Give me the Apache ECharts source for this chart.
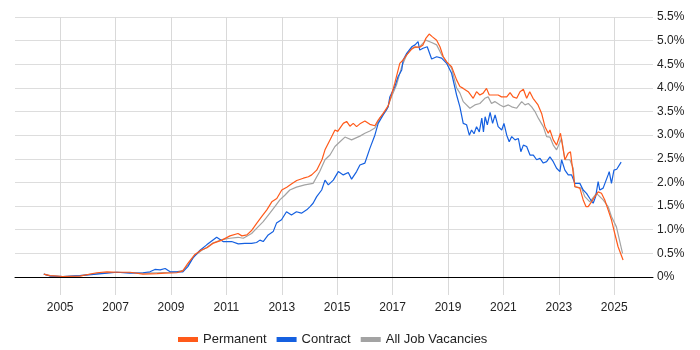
<!DOCTYPE html>
<html><head><meta charset="utf-8">
<script src="https://cdn.jsdelivr.net/npm/echarts@6/dist/echarts.min.js"></script>
<style>html,body{margin:0;padding:0;background:#fff}#c{width:700px;height:350px}</style>
</head><body><div id="c"></div>
<script>
const seriesNames = ['Permanent', 'Contract', 'All Job Vacancies'];
const yearTicks = [2005, 2007, 2009, 2011, 2013, 2015, 2017, 2019, 2021, 2023, 2025];
const pctTicks = [0, 0.5, 1, 1.5, 2, 2.5, 3, 3.5, 4, 4.5, 5, 5.5];

const permanentData = [
[2004.41,0.06],[2004.63,0.03],[2005.10,0.01],[2005.71,0.02],[2006.32,0.09],[2006.69,0.11],[2007.05,0.10],[2007.52,0.10],[2007.99,0.06],[2008.50,0.07],[2008.79,0.08],[2009.21,0.09],[2009.43,0.13],[2009.61,0.29],[2009.85,0.47],[2010.10,0.57],[2010.30,0.62],[2010.51,0.71],[2010.84,0.78],[2011.13,0.87],[2011.42,0.92],[2011.56,0.87],[2011.74,0.89],[2011.92,0.99],[2012.10,1.14],[2012.28,1.28],[2012.46,1.42],[2012.64,1.59],[2012.82,1.66],[2013.00,1.84],[2013.18,1.90],[2013.36,1.97],[2013.54,2.04],[2013.78,2.09],[2013.96,2.12],[2014.08,2.16],[2014.26,2.26],[2014.45,2.48],[2014.56,2.69],[2014.74,2.90],[2014.92,3.11],[2015.02,3.08],[2015.10,3.15],[2015.22,3.25],[2015.34,3.29],[2015.46,3.19],[2015.58,3.25],[2015.70,3.18],[2015.82,3.24],[2016.00,3.30],[2016.18,3.23],[2016.36,3.20],[2016.48,3.32],[2016.66,3.46],[2016.84,3.62],[2016.96,3.85],[2017.08,4.10],[2017.26,4.52],[2017.38,4.59],[2017.51,4.70],[2017.69,4.82],[2017.81,4.87],[2017.98,4.86],[2018.10,4.91],[2018.20,5.05],[2018.32,5.14],[2018.44,5.08],[2018.59,5.01],[2018.71,4.87],[2018.83,4.66],[2018.95,4.55],[2019.13,4.45],[2019.31,4.17],[2019.43,4.03],[2019.55,3.99],[2019.73,3.92],[2019.91,3.78],[2020.03,3.92],[2020.15,3.85],[2020.27,3.89],[2020.39,3.99],[2020.49,3.85],[2020.63,3.85],[2020.81,3.85],[2020.93,3.81],[2021.12,3.81],[2021.24,3.90],[2021.35,3.81],[2021.48,3.78],[2021.60,3.92],[2021.72,3.97],[2021.84,3.78],[2021.95,3.92],[2022.07,3.78],[2022.25,3.64],[2022.38,3.46],[2022.50,3.18],[2022.62,3.04],[2022.68,3.11],[2022.80,2.90],[2022.92,2.79],[2023.06,3.04],[2023.22,2.48],[2023.34,2.62],[2023.42,2.65],[2023.52,2.19],[2023.58,1.91],[2023.76,1.88],[2023.88,1.63],[2023.98,1.49],[2024.06,1.49],[2024.18,1.59],[2024.30,1.70],[2024.42,1.80],[2024.54,1.77],[2024.66,1.63],[2024.78,1.42],[2024.90,1.21],[2025.02,0.92],[2025.14,0.64],[2025.32,0.36]
];

const contractData = [
[2004.41,0.06],[2004.63,0.02],[2005.10,0.01],[2005.71,0.03],[2006.32,0.06],[2006.69,0.08],[2007.05,0.10],[2007.52,0.08],[2007.99,0.09],[2008.24,0.11],[2008.42,0.16],[2008.61,0.15],[2008.79,0.18],[2008.97,0.11],[2009.21,0.11],[2009.43,0.11],[2009.61,0.22],[2009.79,0.40],[2010.04,0.56],[2010.29,0.68],[2010.65,0.84],[2010.88,0.75],[2011.19,0.75],[2011.43,0.70],[2011.67,0.71],[2011.91,0.71],[2012.09,0.73],[2012.21,0.78],[2012.33,0.75],[2012.51,0.89],[2012.69,0.96],[2012.81,1.14],[2012.99,1.21],[2013.17,1.38],[2013.35,1.31],[2013.53,1.38],[2013.71,1.35],[2013.90,1.42],[2014.02,1.49],[2014.13,1.56],[2014.26,1.70],[2014.44,1.84],[2014.56,2.05],[2014.68,1.95],[2014.86,2.05],[2015.04,2.23],[2015.22,2.16],[2015.40,2.21],[2015.52,2.07],[2015.70,2.23],[2015.82,2.37],[2016.00,2.41],[2016.18,2.72],[2016.36,3.00],[2016.48,3.25],[2016.66,3.43],[2016.84,3.60],[2016.90,3.81],[2017.08,4.03],[2017.20,4.24],[2017.33,4.38],[2017.38,4.59],[2017.44,4.55],[2017.51,4.73],[2017.69,4.87],[2017.81,4.91],[2017.92,4.98],[2017.98,4.80],[2018.10,4.84],[2018.25,4.87],[2018.41,4.61],[2018.59,4.66],[2018.77,4.63],[2018.95,4.52],[2019.13,4.31],[2019.31,3.85],[2019.43,3.60],[2019.55,3.25],[2019.67,3.22],[2019.77,3.00],[2019.85,3.11],[2019.94,3.03],[2020.03,3.18],[2020.13,3.07],[2020.22,3.36],[2020.28,3.07],[2020.34,3.39],[2020.42,3.22],[2020.52,3.48],[2020.61,3.25],[2020.70,3.43],[2020.81,3.18],[2020.94,3.11],[2021.02,3.25],[2021.12,3.00],[2021.21,2.86],[2021.30,2.97],[2021.42,2.90],[2021.54,2.93],[2021.63,2.65],[2021.72,2.79],[2021.84,2.76],[2021.96,2.58],[2022.08,2.58],[2022.20,2.48],[2022.32,2.51],[2022.44,2.41],[2022.56,2.44],[2022.68,2.54],[2022.80,2.44],[2022.92,2.30],[2023.04,2.23],[2023.10,2.48],[2023.22,2.26],[2023.34,2.16],[2023.46,2.16],[2023.58,1.98],[2023.76,1.98],[2023.88,1.84],[2024.00,1.77],[2024.12,1.66],[2024.24,1.56],[2024.33,1.70],[2024.42,2.02],[2024.48,1.84],[2024.60,1.88],[2024.78,2.16],[2024.82,2.23],[2024.90,1.98],[2024.99,2.26],[2025.09,2.28],[2025.25,2.43]
];

const allJobsData = [
[2004.41,0.06],[2004.63,0.03],[2005.10,0.01],[2005.71,0.03],[2006.32,0.07],[2006.69,0.09],[2007.05,0.10],[2007.52,0.09],[2007.99,0.08],[2008.50,0.09],[2008.97,0.10],[2009.21,0.11],[2009.43,0.14],[2009.61,0.25],[2009.85,0.45],[2010.10,0.56],[2010.30,0.63],[2010.51,0.72],[2010.84,0.79],[2011.13,0.82],[2011.42,0.84],[2011.61,0.82],[2011.91,0.92],[2012.09,1.03],[2012.33,1.17],[2012.57,1.35],[2012.75,1.49],[2012.93,1.63],[2013.11,1.73],[2013.29,1.84],[2013.53,1.90],[2013.83,1.95],[2014.13,1.98],[2014.37,2.23],[2014.56,2.48],[2014.74,2.58],[2014.92,2.76],[2015.10,2.86],[2015.28,2.96],[2015.52,2.90],[2015.82,2.98],[2016.00,3.04],[2016.18,3.09],[2016.36,3.15],[2016.54,3.36],[2016.78,3.53],[2016.96,3.81],[2017.14,4.06],[2017.33,4.45],[2017.51,4.70],[2017.69,4.84],[2017.98,4.87],[2018.20,5.01],[2018.41,4.96],[2018.59,4.91],[2018.77,4.70],[2018.95,4.55],[2019.13,4.42],[2019.31,4.00],[2019.43,3.89],[2019.55,3.71],[2019.79,3.57],[2019.97,3.64],[2020.15,3.67],[2020.33,3.78],[2020.45,3.81],[2020.57,3.67],[2020.69,3.71],[2020.88,3.64],[2021.00,3.60],[2021.18,3.64],[2021.30,3.60],[2021.48,3.57],[2021.66,3.71],[2021.78,3.64],[2021.90,3.67],[2022.02,3.60],[2022.14,3.50],[2022.26,3.36],[2022.44,3.18],[2022.56,2.97],[2022.68,2.96],[2022.80,2.79],[2022.92,2.69],[2023.10,2.93],[2023.22,2.48],[2023.40,2.48],[2023.52,2.30],[2023.58,1.91],[2023.82,1.88],[2023.94,1.70],[2024.12,1.59],[2024.36,1.77],[2024.60,1.63],[2024.78,1.49],[2024.90,1.28],[2025.08,1.06],[2025.30,0.50]
];

const colors = ['#ff5a1a', '#1560e0', '#a3a3a3'];
const font = 'Liberation Sans, Arial, sans-serif';

const chart = echarts.init(document.getElementById('c'), null, {renderer: 'canvas'});
chart.setOption({
  animation: false,
  color: colors,
  grid: {left: 15, right: 47, top: 17, bottom: 55, containLabel: false, outerBoundsMode: 'none'},
  legend: {
    left: 173, top: 328,
    itemWidth: 20, itemHeight: 5, itemGap: 10,
    icon: 'rect',
    data: seriesNames,
    textStyle: {fontFamily: font, fontSize: 13, color: '#222'}
  },
  xAxis: {
    type: 'value', min: 2003.37, max: 2026.4,
    axisLine: {show: true, lineStyle: {color: '#000', width: 1}},
    axisTick: {show: false, customValues: yearTicks},
    axisLabel: {customValues: yearTicks, formatter: v => String(v), fontFamily: font, fontSize: 12, color: '#222', margin: 7},
    splitLine: {show: true, lineStyle: {color: '#d9d9d9', width: 1}}
  },
  yAxis: {
    type: 'value', position: 'right', min: -0.381, max: 5.5,
    axisLine: {show: false},
    axisTick: {show: false, customValues: pctTicks},
    axisLabel: {customValues: pctTicks, formatter: v => (v === 0 ? '0%' : v.toFixed(1) + '%'), fontFamily: font, fontSize: 12, color: '#222', margin: 4},
    splitLine: {show: true, lineStyle: {color: '#dddddd', width: 1}}
  },
  series: [
    {name: seriesNames[0], type: 'line', data: permanentData, showSymbol: false, symbol: 'none', lineStyle: {width: 1.2, color: colors[0]}, z: 4},
    {name: seriesNames[1], type: 'line', data: contractData, showSymbol: false, symbol: 'none', lineStyle: {width: 1.2, color: colors[1]}, z: 3},
    {name: seriesNames[2], type: 'line', data: allJobsData, showSymbol: false, symbol: 'none', lineStyle: {width: 1.2, color: colors[2]}, z: 2}
  ]
});
</script></body></html>
